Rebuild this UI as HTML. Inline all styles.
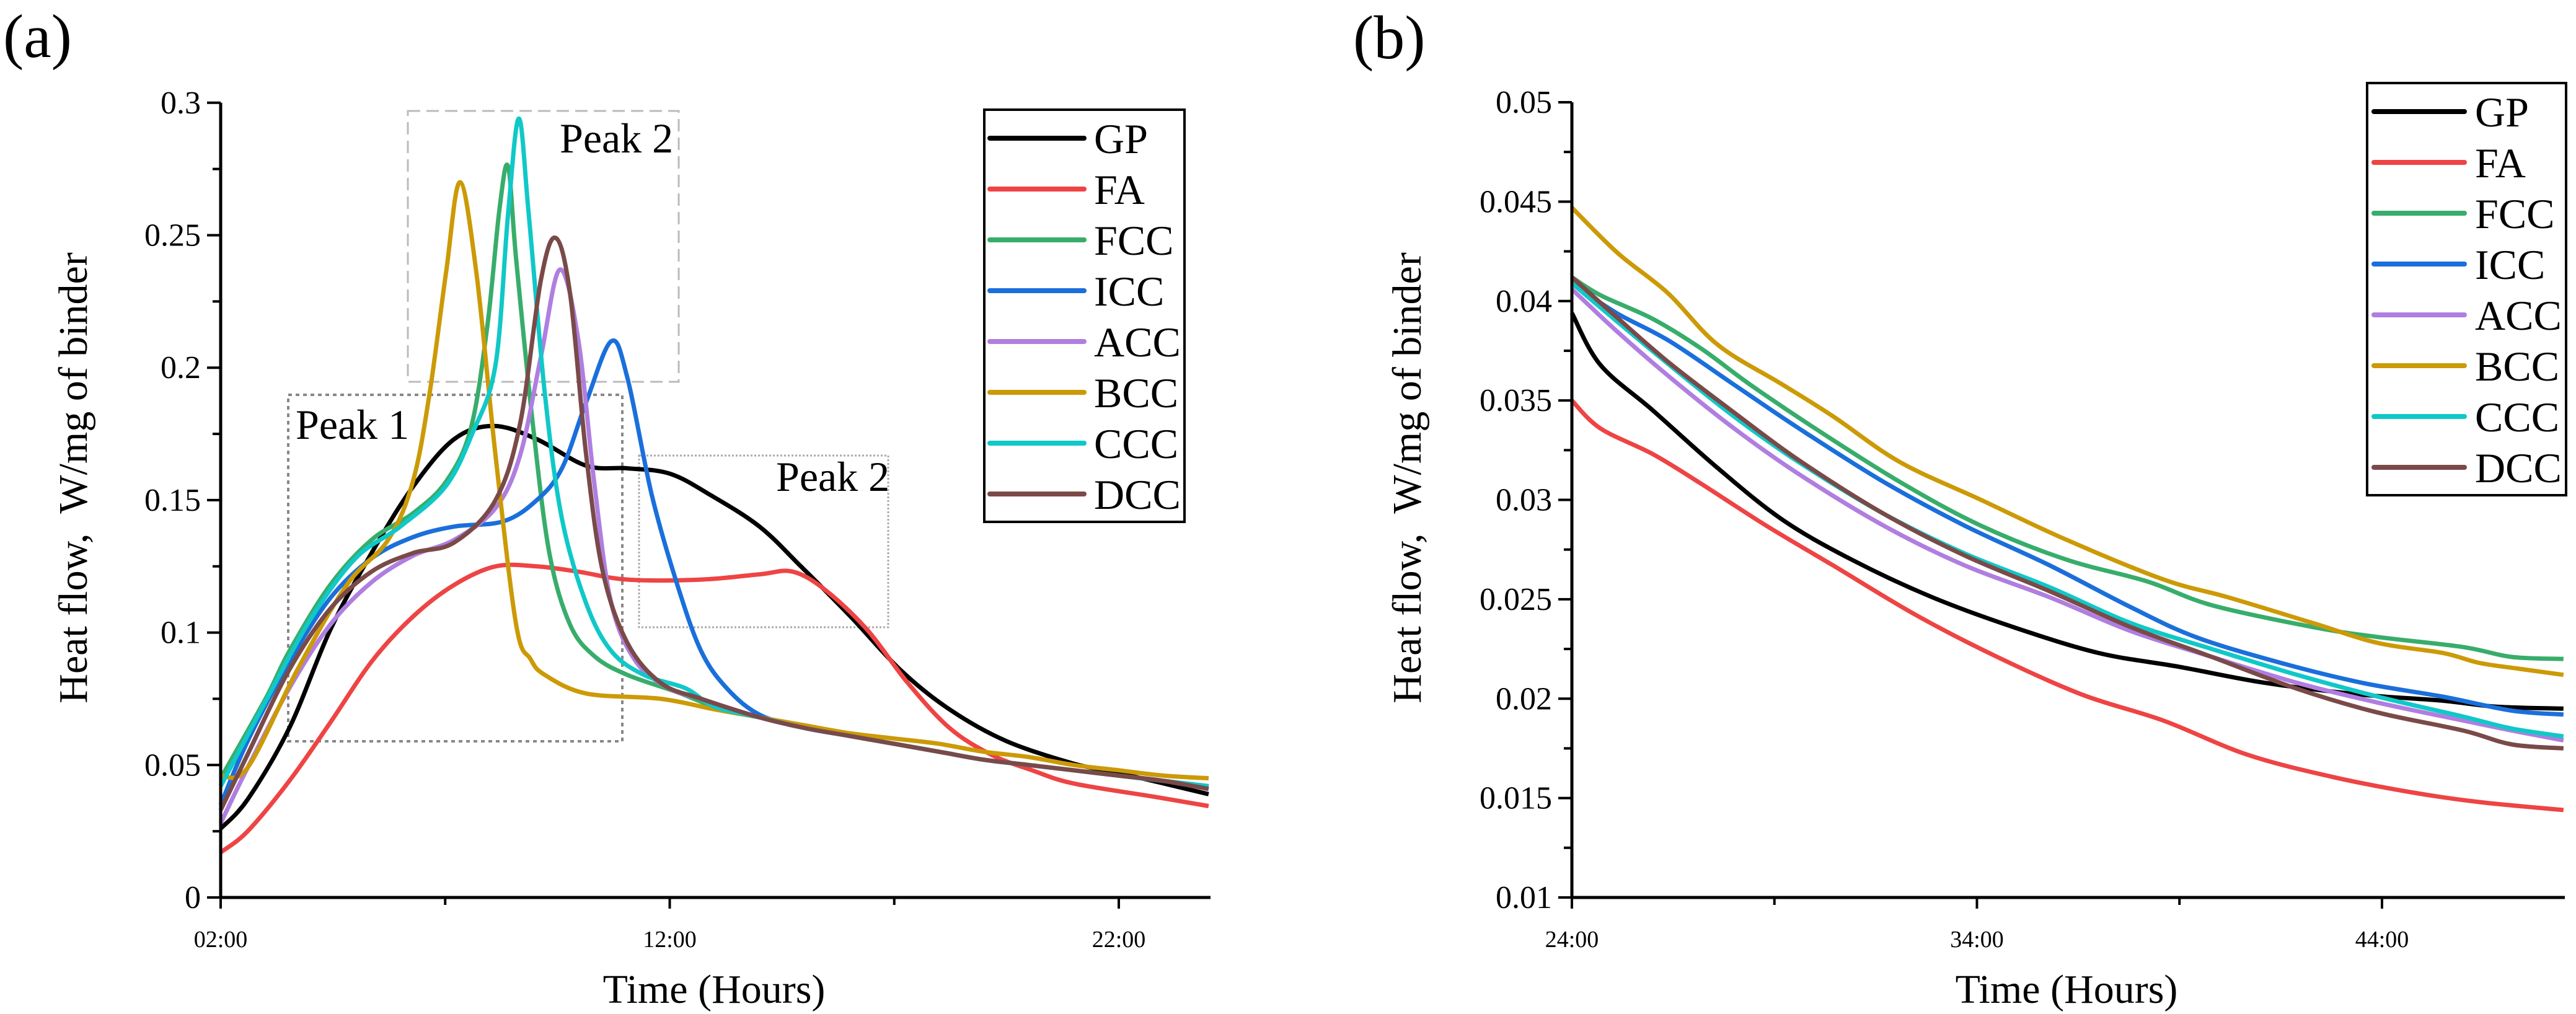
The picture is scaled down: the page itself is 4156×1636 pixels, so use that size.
<!DOCTYPE html>
<html><head><meta charset="utf-8">
<style>
html,body{margin:0;padding:0;background:#fff;}
svg{display:block;}
text{font-family:"Liberation Serif","DejaVu Serif",serif;fill:#000;}
</style></head>
<body>
<svg id="fig" width="4156" height="1636" viewBox="0 0 4156 1636" xmlns="http://www.w3.org/2000/svg">
<rect x="0" y="0" width="4156" height="1636" fill="#fff"/>
<g id="panelA"></g>
<g id="panelB"></g>
</svg>
<script>
// ---------- shared ----------
const seriesNames = ["GP","FA","FCC","ICC","ACC","BCC","CCC","DCC"];
const seriesColors = ["#000000","#ee4444","#38ad6b","#1a6fdb","#b07ee0","#cc9a06","#10c8c8","#7a4a48"];

// ---------- panel (a) data ----------
const aXTicks = [2,12,22];
const aXTickLabels = ["02:00","12:00","22:00"];
const aXMinor = [7,17];
const aYTicks = [0,0.05,0.1,0.15,0.2,0.25,0.3];
const aYTickLabels = ["0","0.05","0.1","0.15","0.2","0.25","0.3"];
const aYMinor = [0.025,0.075,0.125,0.175,0.225,0.275];

const aGP_t = [2,2.6,3.53,4.44,5.36,6.28,7.2,8.08,9.04,10.14,11.06,12,12.9,14,14.92,16.03,17.13,18.23,19.5,21,22,24];
const aGP_v = [0.026,0.037,0.064,0.101,0.13,0.155,0.173,0.178,0.173,0.163,0.162,0.16,0.152,0.14,0.125,0.106,0.086,0.071,0.059,0.0505,0.047,0.039];
const aFA_t = [2,2.6,3.53,4.44,5.36,6.28,7.2,8.12,9.04,9.96,11.06,12.7,14,14.74,15.47,16.4,17.3,18.23,19.15,20.07,21,22.8,24];
const aFA_v = [0.017,0.025,0.044,0.066,0.089,0.106,0.118,0.125,0.125,0.123,0.12,0.12,0.122,0.123,0.116,0.101,0.081,0.064,0.054,0.048,0.043,0.038,0.0345];
const aFCC_t = [2,3,3.53,4.44,5.36,6.28,7.02,7.57,7.94,8.21,8.4,8.58,8.95,9.32,9.78,10.33,11.06,12.17,13,14,15,16,17,18,19,20,21,22,23,24];
const aFCC_v = [0.045,0.075,0.093,0.118,0.135,0.145,0.157,0.177,0.216,0.26,0.276,0.241,0.179,0.13,0.103,0.091,0.084,0.0775,0.072,0.068,0.064,0.061,0.058,0.055,0.052,0.05,0.048,0.046,0.044,0.042];
const aICC_t = [2,2.6,3.53,4.44,5.36,6.28,7.2,8.3,9.04,9.6,10.14,10.7,11.06,11.6,12.17,12.7,13.27,14,15,16,17,18,19,20,21,22,23,24];
const aICC_v = [0.035,0.059,0.089,0.113,0.128,0.136,0.14,0.142,0.15,0.162,0.187,0.21,0.196,0.152,0.118,0.093,0.079,0.069,0.064,0.061,0.058,0.055,0.052,0.05,0.048,0.046,0.044,0.042];
const aACC_t = [2,2.6,3.53,4.44,5.36,6.28,7.2,8.12,8.67,9.13,9.55,9.96,10.33,10.7,11.25,11.98,12.7,14,15,16,17,18,19,20,21,22,23,24];
const aACC_v = [0.028,0.049,0.079,0.103,0.119,0.129,0.135,0.147,0.167,0.204,0.237,0.211,0.155,0.111,0.089,0.079,0.075,0.068,0.064,0.061,0.058,0.055,0.052,0.05,0.048,0.046,0.044,0.041];
const aBCC_t = [2,2.6,3.71,4.81,5.73,6.28,6.65,7.02,7.33,7.7,8.12,8.58,8.9,9.22,10.14,11.8,13,14,15,16,17,18,19,20,21,22,23,24];
const aBCC_v = [0.046,0.049,0.086,0.118,0.135,0.157,0.19,0.236,0.27,0.235,0.167,0.103,0.09,0.084,0.077,0.075,0.071,0.068,0.065,0.062,0.06,0.058,0.055,0.053,0.05,0.048,0.046,0.045];
const aCCC_t = [2,3,4,5,6,7,7.6,8.12,8.4,8.64,8.86,9.22,9.6,10.14,10.7,11.43,12.35,13,14,15,16,17,18,19,20,21,22,23,24];
const aCCC_v = [0.042,0.074,0.105,0.128,0.14,0.155,0.175,0.201,0.258,0.294,0.258,0.19,0.143,0.111,0.093,0.084,0.079,0.072,0.068,0.064,0.061,0.058,0.055,0.052,0.05,0.048,0.046,0.044,0.042];
const aDCC_t = [2,2.6,3.53,4.44,5.36,6.28,7.2,8.12,8.67,9.13,9.46,9.78,10.14,10.51,11.06,11.8,12.7,14,15,16,17,18,19,20,21,22,23,24];
const aDCC_v = [0.033,0.054,0.086,0.109,0.123,0.13,0.134,0.15,0.179,0.233,0.249,0.228,0.167,0.123,0.096,0.081,0.075,0.068,0.064,0.061,0.058,0.055,0.052,0.05,0.048,0.046,0.044,0.041];

// ---------- panel (b) data ----------
const bXTicks = [24,34,44];
const bXTickLabels = ["24:00","34:00","44:00"];
const bXMinor = [29,39];
const bYTicks = [0.01,0.015,0.02,0.025,0.03,0.035,0.04,0.045,0.05];
const bYTickLabels = ["0.01","0.015","0.02","0.025","0.03","0.035","0.04","0.045","0.05"];
const bYMinor = [0.0125,0.0175,0.0225,0.0275,0.0325,0.0375,0.0425,0.0475];

const bGP_t = [24,24.7,26,27.6,29.2,30.9,32.9,34.9,37,39,41.1,43.5,45.5,46.8,48.48];
const bGP_v = [0.0394,0.0368,0.0345,0.0316,0.029,0.027,0.0251,0.0236,0.0223,0.0216,0.0208,0.0202,0.0199,0.0196,0.0195];
const bFA_t = [24,24.7,26,27.2,28.8,30.45,32.5,34.5,36.6,38.6,40.65,42.7,44.7,46.4,48.48];
const bFA_v = [0.035,0.0336,0.0323,0.0308,0.0287,0.0267,0.0242,0.0221,0.0202,0.0189,0.0172,0.0161,0.0153,0.0148,0.0144];
const bFCC_t = [24,24.7,26,27.2,28.4,30,32.1,34.1,36.2,38.2,39.8,42.3,43.9,46,47.2,48.48];
const bFCC_v = [0.0412,0.0403,0.0391,0.0376,0.0358,0.0336,0.0309,0.0287,0.027,0.0259,0.0247,0.0236,0.0231,0.0226,0.0221,0.022];
const bICC_t = [24,25.1,26.4,28,29.6,31.7,33.7,35.8,37.8,39.4,41.5,43.5,45.5,47.2,48.48];
const bICC_v = [0.0409,0.0394,0.038,0.0358,0.0336,0.0309,0.0287,0.0267,0.0246,0.0231,0.0218,0.0208,0.0201,0.0194,0.0192];
const bACC_t = [24,25.1,26.4,28,29.6,31.7,33.7,35.8,37.8,39.8,41.9,43.9,46,47.2,48.48];
const bACC_v = [0.0406,0.0385,0.0362,0.0336,0.0313,0.0287,0.0267,0.0251,0.0234,0.0221,0.0208,0.0198,0.0189,0.0184,0.0179];
const bBCC_t = [24,25.14,26.37,27.6,29.2,30.45,32.1,34.1,36.2,38.6,40.2,42.3,43.9,45.5,46.4,47.4,48.48];
const bBCC_v = [0.0447,0.0424,0.0404,0.0378,0.0358,0.0342,0.0319,0.03,0.028,0.026,0.0251,0.0238,0.0228,0.0223,0.0218,0.0215,0.0212];
const bCCC_t = [24,25.1,26.4,28,29.6,31.7,33.7,35.8,37.8,39.8,41.9,43.9,46,47.2,48.48];
const bCCC_v = [0.0409,0.039,0.0368,0.0342,0.0319,0.0293,0.0273,0.0256,0.0238,0.0225,0.0212,0.0201,0.0191,0.0185,0.0181];
const bDCC_t = [24,25.1,26.4,28,29.6,31.7,33.7,35.8,37.8,39.8,41.9,43.9,46,47.2,48.48];
const bDCC_v = [0.0412,0.0392,0.0369,0.0344,0.032,0.0293,0.0272,0.0254,0.0236,0.0221,0.0205,0.0193,0.0184,0.0177,0.0175];

const NS = "http://www.w3.org/2000/svg";
function mk(tag, parent) { const e = document.createElementNS(NS, tag); parent.appendChild(e); return e; }

function smoothPath(pts) {
  let d = "M" + pts[0][0].toFixed(1) + "," + pts[0][1].toFixed(1);
  for (let i = 0; i < pts.length - 1; i++) {
    const p0 = pts[i-1] || pts[i], p1 = pts[i], p2 = pts[i+1], p3 = pts[i+2] || p2;
    const k = 6;
    const c1x = p1[0] + (p2[0]-p0[0])/k, c1y = p1[1] + (p2[1]-p0[1])/k;
    const c2x = p2[0] - (p3[0]-p1[0])/k, c2y = p2[1] - (p3[1]-p1[1])/k;
    d += " C" + c1x.toFixed(1)+","+c1y.toFixed(1)+" "+c2x.toFixed(1)+","+c2y.toFixed(1)+" "+p2[0].toFixed(1)+","+p2[1].toFixed(1);
  }
  return d;
}

function drawPanel(g, cfg) {
  const xs = v => cfg.x0 + (v - cfg.t0) * cfg.xk;
  const ys = v => cfg.y0 - (v - cfg.v0) * cfg.yk;
  const cg = mk("g", g);
  
  
  cfg.series.forEach((s, i) => {
    const pts = s[0].map((t, j) => [xs(t), ys(s[1][j])]);
    const p = mk("path", cg);
    p.setAttribute("d", smoothPath(pts));
    p.setAttribute("fill", "none");
    p.setAttribute("stroke", seriesColors[i]);
    p.setAttribute("stroke-width", "7");
    p.setAttribute("stroke-linejoin", "round");
    
    
  });
  const ax = mk("line", g);
  ax.setAttribute("x1", cfg.x0); ax.setAttribute("x2", cfg.xEnd);
  ax.setAttribute("y1", cfg.y0); ax.setAttribute("y2", cfg.y0);
  ax.setAttribute("stroke", "#000"); ax.setAttribute("stroke-width", "5");
  
  
  const ay = mk("line", g);
  ay.setAttribute("x1", cfg.x0); ay.setAttribute("x2", cfg.x0);
  ay.setAttribute("y1", cfg.y0 + 2); ay.setAttribute("y2", ys(cfg.vTop));
  ay.setAttribute("stroke", "#000"); ay.setAttribute("stroke-width", "5");
  
  
  cfg.xTicks.forEach((t, i) => {
    const l = mk("line", g);
    l.setAttribute("x1", xs(t)); l.setAttribute("x2", xs(t));
    l.setAttribute("y1", cfg.y0); l.setAttribute("y2", cfg.y0 + 18);
    l.setAttribute("stroke", "#000"); l.setAttribute("stroke-width", "4");
    
    
    const tx = mk("text", g);
    tx.setAttribute("x", xs(t)); tx.setAttribute("y", cfg.y0 + 80);
    tx.setAttribute("text-anchor", "middle"); tx.setAttribute("font-size", "38");
    tx.textContent = cfg.xLabels[i];
    
    
  });
  cfg.xMinor.forEach(t => {
    const l = mk("line", g);
    l.setAttribute("x1", xs(t)); l.setAttribute("x2", xs(t));
    l.setAttribute("y1", cfg.y0); l.setAttribute("y2", cfg.y0 + 12);
    l.setAttribute("stroke", "#000"); l.setAttribute("stroke-width", "4");
    
    
  });
  cfg.yTicks.forEach((v, i) => {
    const l = mk("line", g);
    l.setAttribute("x1", cfg.x0 - 22); l.setAttribute("x2", cfg.x0);
    l.setAttribute("y1", ys(v)); l.setAttribute("y2", ys(v));
    l.setAttribute("stroke", "#000"); l.setAttribute("stroke-width", "4");
    
    
    const tx = mk("text", g);
    tx.setAttribute("x", cfg.x0 - 32); tx.setAttribute("y", ys(v) + 17);
    tx.setAttribute("text-anchor", "end"); tx.setAttribute("font-size", "52");
    tx.textContent = cfg.yLabels[i];
    
    
  });
  cfg.yMinor.forEach(v => {
    const l = mk("line", g);
    l.setAttribute("x1", cfg.x0 - 13); l.setAttribute("x2", cfg.x0);
    l.setAttribute("y1", ys(v)); l.setAttribute("y2", ys(v));
    l.setAttribute("stroke", "#000"); l.setAttribute("stroke-width", "4");
    
    
  });
  const xt = mk("text", g);
  xt.setAttribute("x", cfg.xTitleX); xt.setAttribute("y", 1618);
  xt.setAttribute("text-anchor", "middle"); xt.setAttribute("font-size", "66");
  xt.textContent = "Time (Hours)";
  
  
  const yt = mk("text", g);
  yt.setAttribute("transform", "translate(" + cfg.yTitleX + ",771) rotate(-90)");
  yt.setAttribute("text-anchor", "middle"); yt.setAttribute("font-size", "66");
  yt.textContent = "Heat flow,\u00a0 W/mg of binder";
  
  
  const pl = mk("text", g);
  pl.setAttribute("x", cfg.labelX); pl.setAttribute("y", cfg.labelY);
  pl.setAttribute("font-size", "100");
  pl.textContent = cfg.label;
  
  
  const lg = mk("g", g);
  
  
  const lb = mk("rect", lg);
  lb.setAttribute("x", cfg.leg.x); lb.setAttribute("y", cfg.leg.y);
  lb.setAttribute("width", cfg.leg.w); lb.setAttribute("height", cfg.leg.h);
  lb.setAttribute("fill", "#fff"); lb.setAttribute("stroke", "#000"); lb.setAttribute("stroke-width", "4");
  
  
  seriesNames.forEach((n, i) => {
    const yy = cfg.leg.first + i * 82;
    const ll = mk("line", lg);
    ll.setAttribute("x1", cfg.leg.lx1); ll.setAttribute("x2", cfg.leg.lx2);
    ll.setAttribute("y1", yy); ll.setAttribute("y2", yy);
    ll.setAttribute("stroke", seriesColors[i]); ll.setAttribute("stroke-width", "8");
    ll.setAttribute("stroke-linecap", "round");
    
    
    const lt = mk("text", lg);
    lt.setAttribute("x", cfg.leg.tx); lt.setAttribute("y", yy + 24);
    lt.setAttribute("font-size", "68");
    lt.textContent = n;
    
    
  });
}

const gA = document.getElementById("panelA");
const boxes = [
  {x:658,y:179,w:437,h:437,c:"#bbbbbb",dash:"20 10",sw:3,name:"peak-2-box-top"},
  {x:465,y:637,w:539,h:559,c:"#888888",dash:"6 6",sw:4,name:"peak-1-box"},
  {x:1031,y:735,w:402,h:277,c:"#aaaaaa",dash:"3 3",sw:3,name:"peak-2-box-right"}
];
boxes.forEach(b => {
  const r = mk("rect", gA);
  r.setAttribute("x", b.x); r.setAttribute("y", b.y);
  r.setAttribute("width", b.w); r.setAttribute("height", b.h);
  r.setAttribute("fill", "none"); r.setAttribute("stroke", b.c);
  r.setAttribute("stroke-width", b.sw); r.setAttribute("stroke-dasharray", b.dash);
  
  
});
const annots = [["Peak 2",903,246,"peak-2-label-top"],["Peak 1",477,708,"peak-1-label"],["Peak 2",1252,792,"peak-2-label-right"]];
annots.forEach(a => {
  const t = mk("text", gA);
  t.setAttribute("x", a[1]); t.setAttribute("y", a[2]); t.setAttribute("font-size", "68");
  t.textContent = a[0];
  
  
});

drawPanel(gA, {
  x0:356, t0:2, xk:72.45, xEnd:1953, y0:1448, v0:0, yk:4274, vTop:0.3,
  xTicks:aXTicks, xLabels:aXTickLabels, xMinor:aXMinor,
  yTicks:aYTicks, yLabels:aYTickLabels, yMinor:aYMinor,
  series:[[aGP_t,aGP_v],[aFA_t,aFA_v],[aFCC_t,aFCC_v],[aICC_t,aICC_v],[aACC_t,aACC_v],[aBCC_t,aBCC_v],[aCCC_t,aCCC_v],[aDCC_t,aDCC_v]],
  xTitleX:1152, yTitleX:140, label:"(a)", labelX:5, labelY:92,
  leg:{x:1588,y:177,w:323,h:665,first:223,lx1:1597,lx2:1749,tx:1765}
});

drawPanel(document.getElementById("panelB"), {
  x0:2536, t0:24, xk:65.35, xEnd:4138, y0:1448, v0:0.01, yk:32075, vTop:0.05,
  xTicks:bXTicks, xLabels:bXTickLabels, xMinor:bXMinor,
  yTicks:bYTicks, yLabels:bYTickLabels, yMinor:bYMinor,
  series:[[bGP_t,bGP_v],[bFA_t,bFA_v],[bFCC_t,bFCC_v],[bICC_t,bICC_v],[bACC_t,bACC_v],[bBCC_t,bBCC_v],[bCCC_t,bCCC_v],[bDCC_t,bDCC_v]],
  xTitleX:3334, yTitleX:2292, label:"(b)", labelX:2183, labelY:94,
  leg:{x:3819,y:134,w:321,h:665,first:180,lx1:3830,lx2:3976,tx:3993}
});
</script>
</body></html>
